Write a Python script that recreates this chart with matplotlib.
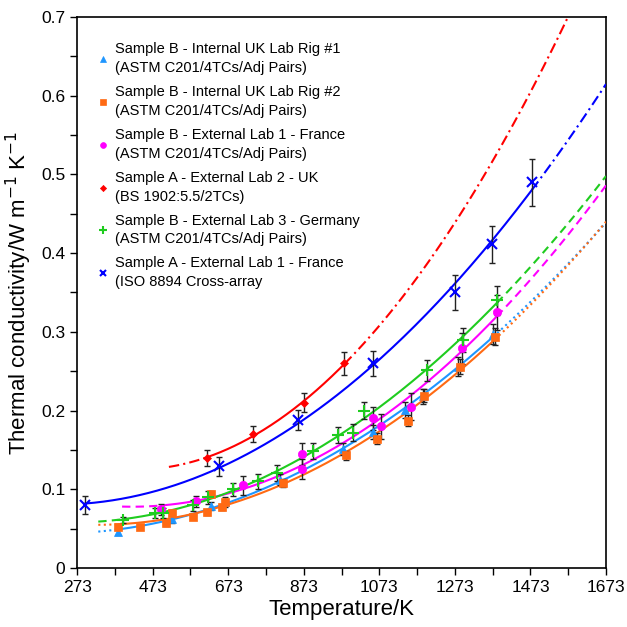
import matplotlib
matplotlib.use('Agg')
import matplotlib.pyplot as plt
import numpy as np

plt.rcParams.update({
    'font.family': ['Liberation Sans', 'DejaVu Sans'],
    'font.size': 10.5,
    'axes.linewidth': 1.2,
})

# Sample B - Internal UK Lab Rig #1 (triangles)
rig1_T = [382, 524, 628, 665, 810, 977, 1056, 1141, 1189, 1281, 1374]
rig1_k = [0.046, 0.062, 0.079, 0.084, 0.112, 0.151, 0.173, 0.201, 0.218, 0.256, 0.297]
rig1_e = [0.004, 0.005, 0.005, 0.006, 0.007, 0.008, 0.009, 0.010, 0.010, 0.012, 0.013]

# Sample B - Internal UK Lab Rig #2 (squares)
rig2_T = [382, 440, 508, 524, 580, 617, 628, 657, 665, 818, 985, 1067, 1149, 1191, 1287, 1379]
rig2_k = [0.052, 0.052, 0.057, 0.070, 0.065, 0.071, 0.094, 0.078, 0.084, 0.108,
          0.143, 0.164, 0.187, 0.219, 0.256, 0.294]
rig2_e = [0.003, 0.003, 0.003, 0.003, 0.003, 0.003, 0.004, 0.004, 0.004, 0.005,
          0.006, 0.007, 0.007, 0.008, 0.010, 0.011]

# Sample B - External Lab 1 - France (circles)
fr1_T = [495, 588, 712, 868, 868, 1056, 1077, 1157, 1292, 1384]
fr1_k = [0.075, 0.085, 0.105, 0.145, 0.126, 0.190, 0.180, 0.205, 0.279, 0.325]
fr1_e = [0.007, 0.007, 0.012, 0.014, 0.013, 0.015, 0.016, 0.017, 0.020, 0.022]

# Sample A - External Lab 2 - UK (diamonds)
uk2_T = [617, 739, 874, 980]
uk2_k = [0.140, 0.170, 0.210, 0.260]
uk2_e = [0.010, 0.010, 0.012, 0.015]

# Sample B - External Lab 3 - Germany (plus)
de3_T = [395, 479, 500, 580, 620, 686, 752, 802, 897, 964, 1003, 1033, 1199, 1294, 1384]
de3_k = [0.061, 0.070, 0.070, 0.080, 0.090, 0.100, 0.110, 0.121, 0.149, 0.169,
         0.172, 0.200, 0.251, 0.290, 0.340]
de3_e = [0.004, 0.006, 0.006, 0.007, 0.008, 0.008, 0.009, 0.010, 0.010, 0.010,
         0.011, 0.011, 0.013, 0.015, 0.018]

# Sample A - External Lab 1 - France, ISO 8894 (crosses)
fr1a_T = [295, 649, 858, 1056, 1273, 1371, 1477]
fr1a_k = [0.080, 0.129, 0.188, 0.260, 0.350, 0.411, 0.490]
fr1a_e = [0.011, 0.012, 0.013, 0.016, 0.022, 0.024, 0.030]

labels = [
    'Sample B - Internal UK Lab Rig #1\n(ASTM C201/4TCs/Adj Pairs)',
    'Sample B - Internal UK Lab Rig #2\n(ASTM C201/4TCs/Adj Pairs)',
    'Sample B - External Lab 1 - France\n(ASTM C201/4TCs/Adj Pairs)',
    'Sample A - External Lab 2 - UK\n(BS 1902:5.5/2TCs)',
    'Sample B - External Lab 3 - Germany\n(ASTM C201/4TCs/Adj Pairs)',
    'Sample A - External Lab 1 - France\n(ISO 8894 Cross-array',
]

# (T, k, err, colour, marker, marker size, extrapolation style, left start, right end)
series = [
    (rig1_T, rig1_k, rig1_e, '#1E96FF', '^', 5.5, ':', 329, 1673),
    (rig2_T, rig2_k, rig2_e, '#FF6A13', 's', 6, ':', 329, 1673),
    (fr1_T, fr1_k, fr1_e, '#FF00FF', 'o', 6, (0, (4, 2.5)), 392, 1673),
    (uk2_T, uk2_k, uk2_e, '#FF0000', 'D', 4.5, (0, (5, 2, 1, 2)), 516, 1673),
    (de3_T, de3_k, de3_e, '#1FCC1F', '+', 8, (0, (4, 2.5)), 329, 1673),
    (fr1a_T, fr1a_k, fr1a_e, '#0000FF', 'x', 7, (0, (5, 2, 1, 2)), None, 1673),
]

fig = plt.figure(figsize=(6.27, 6.27), dpi=100)
ax = fig.add_axes([0.123, 0.094, 0.8435, 0.879])

handles = []
for (T, k, e, c, m, ms, ls, lo, hi), lab in zip(series, labels):
    T = np.array(T, dtype=float)
    k = np.array(k)
    coef = np.polyfit(T, k, 2)
    # solid fit over measured range
    ts = np.linspace(T.min(), T.max(), 200)
    ax.plot(ts, np.polyval(coef, ts), color=c, lw=1.5, zorder=3)
    # extrapolations
    if lo is not None:
        tl = np.linspace(lo, T.min(), 50)
        ax.plot(tl, np.polyval(coef, tl), color=c, lw=1.5, ls=ls, zorder=3)
    tr = np.linspace(T.max(), hi, 100)
    ax.plot(tr, np.polyval(coef, tr), color=c, lw=1.5, ls=ls, zorder=3)
    ax.errorbar(T, k, yerr=e, fmt='none', ecolor='#222222', elinewidth=1.0,
                capsize=2.5, capthick=1.0, zorder=4)
    mew = 1.5 if m in ('+', 'x') else 0.5
    h = ax.plot(T, k, ls='none', marker=m, ms=ms, color=c, mec=c, mew=mew,
                zorder=5, label=lab)[0]
    handles.append(h)

ax.set_xlim(273, 1673)
ax.set_ylim(0, 0.7)
ax.set_xticks(np.arange(273, 1674, 200))
ax.set_xticks(np.arange(373, 1674, 200), minor=True)
ax.set_yticks(np.arange(0, 0.71, 0.1))
ax.set_yticks(np.arange(0.05, 0.7, 0.1), minor=True)
ax.set_yticklabels(['0', '0.1', '0.2', '0.3', '0.4', '0.5', '0.6', '0.7'])
ax.tick_params(which='both', direction='out', length=5, width=1.0, labelsize=12.5)
ax.set_xlabel('Temperature/K', fontsize=16, labelpad=3)
ax.set_ylabel('Thermal conductivity/W m$^{-1}$ K$^{-1}$', fontsize=16, labelpad=5)

leg = ax.legend(handles=handles, loc='upper left', bbox_to_anchor=(0.03, 0.965),
                frameon=False, fontsize=10.5, handlelength=0.6, handletextpad=0.5,
                labelspacing=0.68, markerscale=0.7, borderaxespad=0)
plt.setp(leg.get_texts(), linespacing=1.45)

fig.savefig('out.png', dpi=100)
